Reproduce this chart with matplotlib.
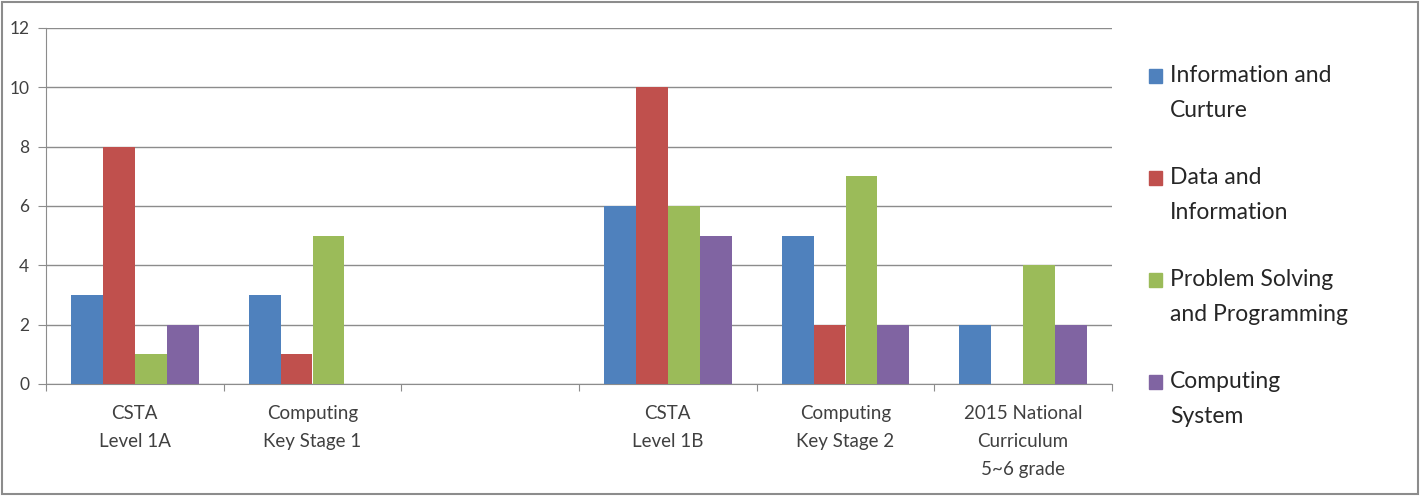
import numpy as np
import matplotlib.pyplot as plt
from matplotlib.patches import Rectangle

plt.rcParams['font.family'] = ['Lato', 'DejaVu Sans']

categories = ['CSTA\nLevel 1A', 'Computing\nKey Stage 1', '',
              'CSTA\nLevel 1B', 'Computing\nKey Stage 2',
              '2015 National\nCurriculum\n5~6 grade']
series = ['Information and\nCurture', 'Data and\nInformation',
          'Problem Solving\nand Programming', 'Computing\nSystem']
info_culture = [3, 3, 0, 6, 5, 2]
data_info = [8, 1, 0, 10, 2, 0]
problem_solving = [1, 5, 0, 6, 7, 4]
computing_system = [2, 0, 0, 5, 2, 2]
colors = ['#4F81BD', '#C0504D', '#9BBB59', '#8064A2']

values = [info_culture, data_info, problem_solving, computing_system]

W, H = 1428, 496
fig = plt.figure(figsize=(W / 100, H / 100), dpi=100)
ax = fig.add_axes([46 / W, 1 - 384 / H, (1112 - 46) / W, (384 - 28) / H])

x = np.arange(len(categories))
w = 0.18
for i, (vals, c) in enumerate(zip(values, colors)):
    ax.bar(x + (i - 1.5) * w, vals, w, color=c, zorder=3)

ax.set_xlim(-0.5, len(categories) - 0.5)
ax.set_ylim(0, 12)
ax.set_yticks(range(0, 13, 2))
ax.yaxis.grid(True, color='#8c8c8c', lw=1, zorder=0)
ax.set_axisbelow(True)

ax.set_xticks(np.arange(-0.5, len(categories), 1))
ax.set_xticklabels([])
ax.set_xticks(x, minor=True)
ax.set_xticklabels(categories, minor=True, fontsize=13.5, color='#404040', linespacing=1.8)
ax.tick_params(axis='x', which='minor', length=0, pad=15)
ax.tick_params(axis='x', which='major', length=5, color='#8c8c8c')
ax.tick_params(axis='y', length=6, color='#8c8c8c', labelsize=12.5, labelcolor='#404040', pad=6)

for s in ['top', 'right']:
    ax.spines[s].set_visible(False)
for s in ['left', 'bottom']:
    ax.spines[s].set_color('#8c8c8c')

# legend drawn by hand: square next to the first line of each label
for i, (lab, c) in enumerate(zip(series, colors)):
    base = 83 + 102 * i
    fig.patches.append(Rectangle((1149 / W, 1 - base / H), 13 / W, 14 / H,
                                 transform=fig.transFigure, color=c))
    # baseline alignment uses the last line, which sits one line pitch lower
    fig.text(1170 / W, 1 - (base + 34) / H, lab, fontsize=16.5, color='#262626',
             va='baseline', ha='left', linespacing=1.83)

fig.patches.append(Rectangle((2 / W, 2 / H), 1416 / W, 492 / H,
                             transform=fig.transFigure, fill=False,
                             edgecolor='#8c8c8c', lw=1.5))

fig.savefig('out.png', dpi=100)
